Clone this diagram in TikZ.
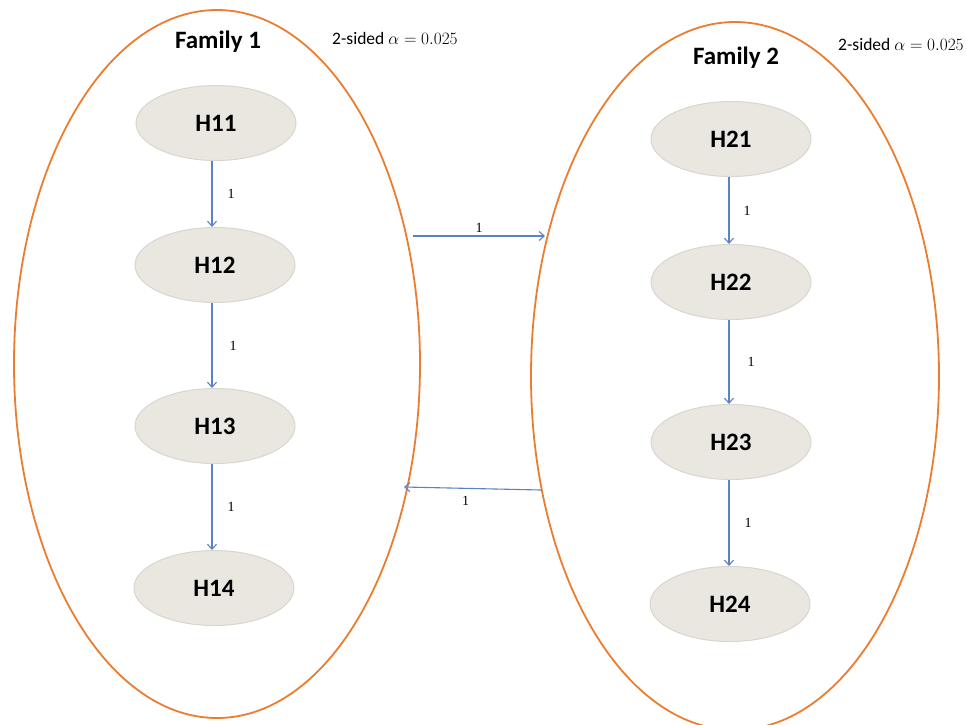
\documentclass[tikz,border=0pt]{standalone}
\usepackage{fontspec}
\setmainfont{Liberation Serif}
\newfontfamily\carlitofont{Carlito}
\usetikzlibrary{shapes.geometric,arrows.meta}
\definecolor{famorange}{HTML}{EB7D31}
\definecolor{arrblue}{HTML}{5B82C4}
\definecolor{hfill}{HTML}{E9E7E0}
\definecolor{hdraw}{HTML}{D8D6CE}
\tikzset{
  bigell/.style={ellipse, draw=famorange, line width=1.8pt, inner sep=0pt},
  hyp/.style={ellipse, fill=hfill, draw=hdraw, line width=1pt, minimum width=160pt, minimum height=75pt, inner sep=0pt, font=\carlitofont\bfseries\fontsize{25}{25}\selectfont},
  famlbl/.style={font=\carlitofont\bfseries\fontsize{25}{25}\selectfont},
  alphalbl/.style={anchor=west, inner sep=0pt, font=\carlitofont\fontsize{17.5}{17.5}\selectfont},
  conn/.style={draw=arrblue, line width=1.1pt, -{Straight Barb[length=5pt,width=9pt]}},
  wlbl/.style={font=\fontsize{14}{14}\selectfont, inner sep=1pt}
}
\begin{document}
\begin{tikzpicture}[x=1pt,y=-1pt]
\useasboundingbox (0,0) rectangle (966,724);
\fill[white] (0,0) rectangle (966,724);
% families
\node[bigell, minimum width=406pt, minimum height=708pt] (F1) at (217,364) {};
\node[bigell, minimum width=408pt, minimum height=708pt] (F2) at (735,376) {};
\node[famlbl] (L1) at (218,42) {Family 1};
\node[famlbl] (L2) at (736,58) {Family 2};
\node[alphalbl] (A1) at (332,38) {2-sided $\alpha = 0.025$};
\node[alphalbl] (A2) at (838,44) {2-sided $\alpha = 0.025$};
% hypotheses
\node[hyp] (H11) at (216,123) {H11};
\node[hyp] (H12) at (215,265) {H12};
\node[hyp] (H13) at (215,426) {H13};
\node[hyp] (H14) at (214,588) {H14};
\node[hyp] (H21) at (731,139) {H21};
\node[hyp] (H22) at (731,282) {H22};
\node[hyp] (H23) at (731,442) {H23};
\node[hyp] (H24) at (730,604) {H24};
% vertical connectors
\draw[conn] (H11.south -| 212,0) -- (H12.north -| 212,0) node[wlbl, midway, right=14pt] {1};
\draw[conn] (H12.south -| 212,0) -- (H13.north -| 212,0) node[wlbl, midway, right=16pt] {1};
\draw[conn] (H13.south -| 212,0) -- (H14.north -| 212,0) node[wlbl, midway, right=14pt] {1};
\draw[conn] (H21.south -| 729,0) -- (H22.north -| 729,0) node[wlbl, midway, right=13pt] {1};
\draw[conn] (H22.south -| 729,0) -- (H23.north -| 729,0) node[wlbl, midway, right=17pt] {1};
\draw[conn] (H23.south -| 729,0) -- (H24.north -| 729,0) node[wlbl, midway, right=14pt] {1};
% cross-family connectors
\coordinate (t1) at (413,236);
\coordinate (t2) at (545,236);
\coordinate (b1) at (541,490);
\coordinate (b2) at (404,487);
\draw[conn] (t1) -- (t2) node[wlbl, pos=0.5, above=2pt] {1};
\draw[conn] (b1) -- (b2) node[wlbl, pos=0.55, below=6pt] {1};
\end{tikzpicture}
\end{document}
